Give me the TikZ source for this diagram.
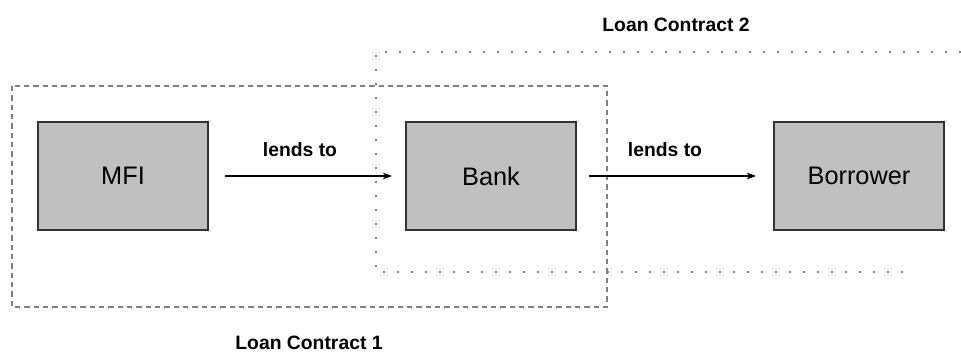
\documentclass[tikz,border=0pt]{standalone}
\usepackage{fontspec}
\setmainfont{Liberation Sans}
\usetikzlibrary{arrows.meta}
\definecolor{boxgray}{HTML}{C0C0C0}
\definecolor{framegray}{HTML}{808080}
\tikzset{
  party/.style={draw=black!80, line width=0.8pt, fill=boxgray, minimum width=127.5pt, minimum height=81pt, inner sep=0pt, font=\fontsize{19}{22}\selectfont},
  lend/.style={-{Stealth[length=7pt,width=5pt]}, line width=1.5pt, black},
  lbl/.style={font=\bfseries\fontsize{14.5}{17}\selectfont, inner sep=0pt},
  frameA/.style={draw=framegray, line width=0.9pt, dash pattern=on 4pt off 3pt},
  frameB/.style={draw=framegray, line width=1pt, dash pattern=on 1.2pt off 9.3pt},
}
\begin{document}
\begin{tikzpicture}[x=0.75pt, y=-0.75pt]
\useasboundingbox (0,0) rectangle (961,353);
% frames
\draw[frameA] (12,86) rectangle (607,307);
\draw[frameB] (961,52) -- (376,52) -- (376,272) -- (905,272);
% parties
\node[party] (mfi) at (123,176) {MFI};
\node[party] (bank) at (491,176) {Bank};
\node[party] (borrower) at (859,176) {Borrower};
% arrows
\draw[lend] ([xshift=12pt]mfi.east) -- ([xshift=-10pt]bank.west);
\draw[lend] ([xshift=9pt]bank.east) -- ([xshift=-13pt]borrower.west);
% labels
\node[lbl] (l1) at (300,150) {lends to};
\node[lbl] (l2) at (665,150) {lends to};
\node[lbl] (c2) at (676,25) {Loan Contract 2};
\node[lbl] (c1) at (309,343) {Loan Contract 1};
\end{tikzpicture}
\end{document}
